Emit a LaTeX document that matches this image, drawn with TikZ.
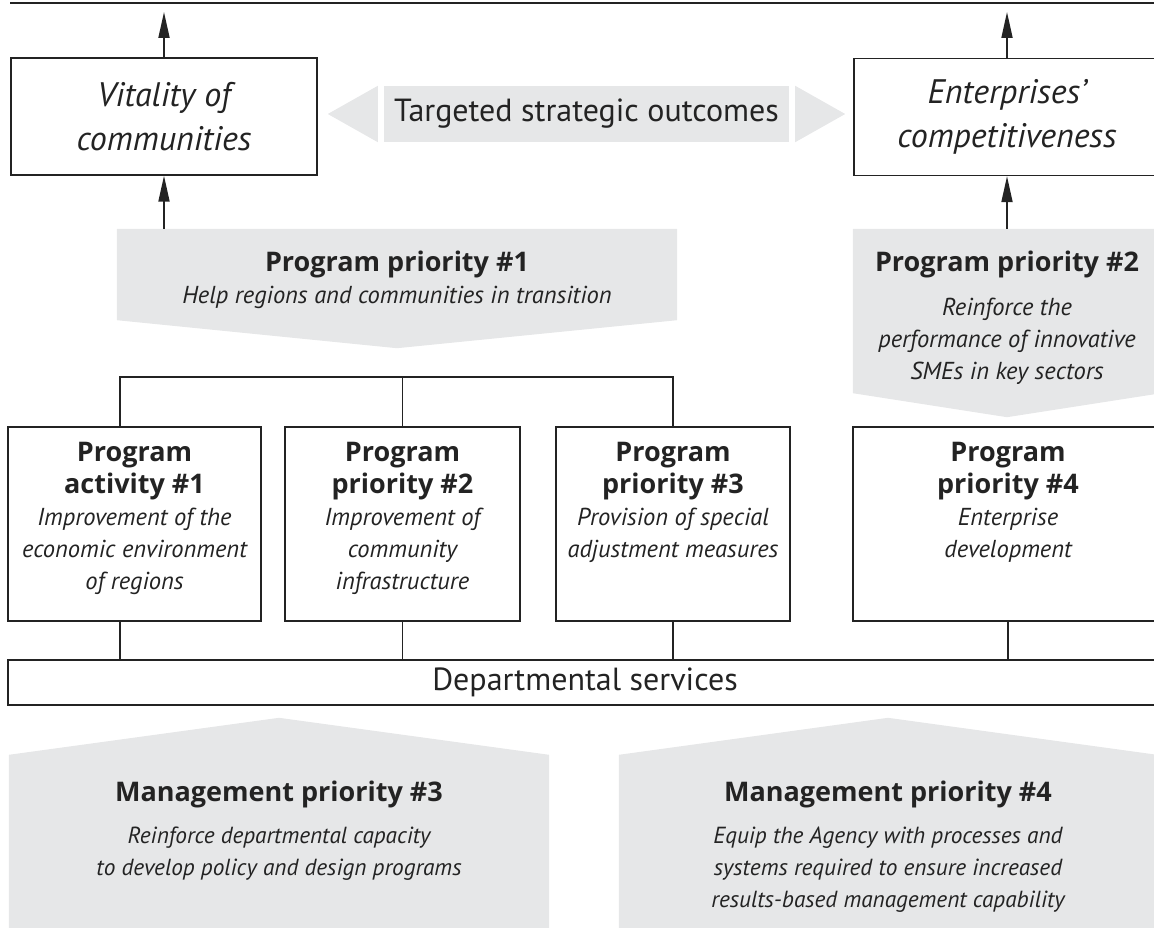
\documentclass[tikz,border=0pt]{standalone}
\usepackage{fontspec}
\setmainfont{PT Sans}
\newfontfamily\headfont{Open Sans}
\usetikzlibrary{arrows.meta,positioning}
\definecolor{bandgray}{RGB}{230,231,232}
\definecolor{inkgray}{RGB}{35,35,35}
\newcommand{\hd}[1]{{\headfont\bfseries\upshape\fontsize{27}{32}\selectfont #1}}

\begin{document}
\begin{tikzpicture}[x=1pt,y=-1pt]
\tikzstyle{every node}+=[inner sep=0pt,text=inkgray]
\tikzstyle{line}=[draw=inkgray,line width=1.4pt]
\tikzstyle{arr}=[line,line width=1.8pt,-{Triangle[length=26pt,width=11pt]}]
\tikzstyle{outbox}=[line,minimum width=306pt,minimum height=117pt,align=center,font=\fontsize{34}{44}\selectfont\itshape]
\tikzstyle{actbox}=[line,minimum height=194pt]
\tikzstyle{bigtxt}=[font=\fontsize{32}{36}\selectfont]
\tikzstyle{bodytxt}=[align=center,font=\fontsize{24.5}{32}\selectfont\itshape]
\tikzstyle{mgmttxt}=[align=center,font=\fontsize{23.3}{32}\selectfont\itshape]
\useasboundingbox (0,0) rectangle (1154,928);
\draw[line] (10,3) -- (1170,3);
\node[outbox] (vital) at (164,116.5) {Vitality of\\communities};
\node[outbox] (ent) at (1007,117) {Enterprises’\\competitiveness};
\coordinate (vtop) at (164,12);
\coordinate (etop) at (1007,12);
\draw[arr] (vital.north) -- (vtop);
\draw[arr] (ent.north) -- (etop);
\node[bigtxt,fill=bandgray,minimum width=405pt,minimum height=56pt] (tso) at (586.5,114) {Targeted strategic outcomes};
\fill[bandgray] ([xshift=-6pt]tso.north west) -- ([xshift=-56pt]tso.west) -- ([xshift=-6pt]tso.south west) -- cycle;
\fill[bandgray] ([xshift=6pt]tso.north east) -- ([xshift=56pt]tso.east) -- ([xshift=6pt]tso.south east) -- cycle;
\node[minimum width=560pt,minimum height=91pt] (pp1) at (397,274.5) {};
\fill[bandgray] (pp1.north west) -- (pp1.north east) -- (pp1.south east) -- ([yshift=-28pt]pp1.south) -- (pp1.south west) -- cycle;
\node[bodytxt,anchor=north] (pp1t) at (397,251) {\hd{Program priority \#1}\\Help regions and communities in transition};
\node[minimum width=308pt,minimum height=164pt] (pp2) at (1007,311) {};
\fill[bandgray] (pp2.north west) -- (pp2.north east) -- (pp2.south east) -- ([yshift=-24pt]pp2.south) -- (pp2.south west) -- cycle;
\node[bodytxt,anchor=north] (pp2t) at (1007,251) {\hd{Program priority \#2}\\[12pt]Reinforce the\\performance of innovative\\SMEs in key sectors};
\draw[arr] (pp1.north -| vital) -- (vital.south);
\draw[arr] (pp2.north) -- (ent.south);
\node[actbox,minimum width=253pt] (pa1) at (134.5,524) {};
\node[actbox,minimum width=235pt] (pa2) at (402.5,524) {};
\node[actbox,minimum width=234pt] (pa3) at (673,524) {};
\node[actbox,minimum width=310pt] (pa4) at (1008,524) {};
\node[bodytxt,below=16pt of pa1.north] (pa1t) {\hd{Program}\\\hd{activity \#1}\\Improvement of the\\economic environment\\of regions};
\node[bodytxt,below=16pt of pa2.north] (pa2t) {\hd{Program}\\\hd{priority \#2}\\Improvement of\\community\\infrastructure};
\node[bodytxt,below=16pt of pa3.north] (pa3t) {\hd{Program}\\\hd{priority \#3}\\Provision of special\\adjustment measures};
\node[bodytxt,below=16pt of pa4.north] (pa4t) {\hd{Program}\\\hd{priority \#4}\\Enterprise\\development};
\coordinate (hub) at (402.5,377);
\draw[line] ([xshift=-14.5pt]pa1.north) |- (hub) -| (pa3.north);
\draw[line] (hub) -- (pa2.north);
\node[line,bigtxt,minimum width=1154pt,minimum height=45pt] (dept) at (585,682.5) {Departmental services};
\coordinate (pa1s) at ([xshift=-14.5pt]pa1.south);
\draw[line] (pa1s) -- (pa1s |- dept.north);
\draw[line] (pa2.south) -- (pa2.south |- dept.north);
\draw[line] (pa3.south) -- (pa3.south |- dept.north);
\draw[line] (pa4.south) -- (pa4.south |- dept.north);
\node[minimum width=540pt,minimum height=185pt] (mp3) at (279,847.5) {};
\fill[bandgray] (mp3.south west) -- (mp3.north west) -- ([yshift=37pt]mp3.north) -- (mp3.north east) -- (mp3.south east) -- cycle;
\node[mgmttxt,anchor=north] (mp3t) at (279,781) {\hd{Management priority \#3}\\[10pt]Reinforce departmental capacity\\to develop policy and design programs};
\node[minimum width=538pt,minimum height=185pt] (mp4) at (888,847.5) {};
\fill[bandgray] (mp4.south west) -- (mp4.north west) -- ([yshift=37pt]mp4.north) -- (mp4.north east) -- (mp4.south east) -- cycle;
\node[mgmttxt,anchor=north] (mp4t) at (888,781) {\hd{Management priority \#4}\\[10pt]Equip the Agency with processes and\\systems required to ensure increased\\results-based management capability};
\end{tikzpicture}
\end{document}
